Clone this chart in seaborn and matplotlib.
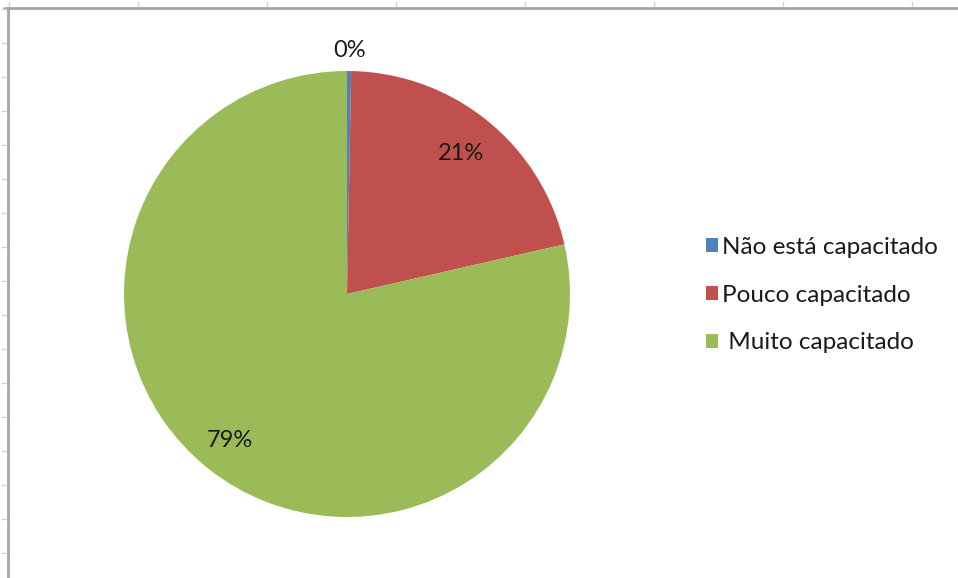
import math
import numpy as np
import seaborn as sns
import matplotlib.pyplot as plt
from matplotlib.lines import Line2D

# dados (contagens)
categorias = ['Não está capacitado', 'Pouco capacitado', ' Muito capacitado']
respostas = [1, 71, 264]
cores = ['#4F81BD', '#C0504D', '#9BBB59']
dist_rotulo = [1.09, 0.81, 0.84]

sns.set_theme(style='white')
plt.rcParams['font.family'] = ['Lato', 'DejaVu Sans']

W, H = 958, 578
fig = plt.figure(figsize=(W / 100, H / 100), dpi=100)
fig.patch.set_facecolor('white')

# posição da pizza: centro (347, 294), raio 223 px
cx, cy, r = 347, 294, 223
ax = fig.add_axes([(cx - r) / W, (H - cy - r) / H, 2 * r / W, 2 * r / H])
wedges, _ = ax.pie(respostas, colors=cores, startangle=90, counterclock=False,
                   radius=1, wedgeprops=dict(linewidth=0))
ax.set_xlim(-1, 1)
ax.set_ylim(-1, 1)
ax.set_aspect('equal')
ax.axis('off')

total = sum(respostas)
for w, n, d in zip(wedges, respostas, dist_rotulo):
    ang = math.radians((w.theta1 + w.theta2) / 2)
    pct = math.floor(100 * n / total + 0.5)
    ax.text(d * math.cos(ang), d * math.sin(ang), f'{pct}%',
            ha='center', va='center', fontsize=17, color='#1a1a1a')

leg = fig.legend(wedges, categorias, loc='center left',
                 bbox_to_anchor=(694 / W, 1 - 295 / H), frameon=False,
                 fontsize=17.5, handlelength=0.5, handleheight=0.5,
                 handletextpad=0.15, labelspacing=1.1, borderpad=0,
                 labelcolor='#1a1a1a')

# moldura da área do gráfico e marcas da planilha
borda = '#A6A6A6'
fig.add_artist(Line2D([4 / W, 1], [1 - 8 / H, 1 - 8 / H], color=borda, lw=2,
                      transform=fig.transFigure))
fig.add_artist(Line2D([8 / W, 8 / W], [0, 1 - 8 / H], color=borda, lw=2,
                      transform=fig.transFigure))
for x in np.arange(9, W, 129):
    fig.add_artist(Line2D([x / W, x / W], [1 - 2 / H, 1 - 6 / H], color='#C9D0DE',
                          lw=1, transform=fig.transFigure))
for y in np.arange(9, H, 34):
    fig.add_artist(Line2D([2 / W, 6 / W], [1 - y / H, 1 - y / H], color='#C9D0DE',
                          lw=1, transform=fig.transFigure))

fig.savefig('out.png', dpi=100, facecolor='white')
